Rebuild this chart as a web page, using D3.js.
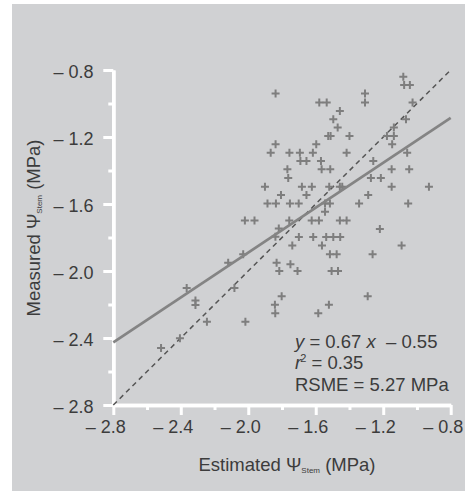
<!DOCTYPE html>
<html><head><meta charset="utf-8">
<script src="https://cdn.jsdelivr.net/npm/d3@7"></script>
<style>
html,body{margin:0;padding:0;background:#fff;}
svg{display:block;font-family:"Liberation Sans",Arial,sans-serif;}
</style></head>
<body><svg id="c" width="465" height="491"></svg>
<script>
// Estimated (x) and measured (y) stem water potential, MPa
const estimated = [-1.081,-1.076,-1.042,-1.838,-1.308,-1.308,-1.579,-1.535,-1.026,-1.457,
-1.496,-1.065,-1.470,-1.137,-1.526,-1.512,-1.400,-1.178,-1.137,-1.838,
-1.597,-1.147,-1.867,-1.756,-1.694,-1.617,-1.417,-1.058,-1.691,-1.655,
-1.569,-1.259,-1.768,-1.565,-1.514,-1.150,-1.046,-1.763,-1.273,-1.214,
-1.901,-1.682,-1.623,-1.520,-1.457,-1.443,-1.150,-0.929,-1.806,-1.655,
-1.289,-1.886,-1.836,-1.753,-1.701,-1.545,-1.516,-1.343,-1.052,-1.545,
-2.020,-1.963,-1.757,-1.624,-1.581,-1.457,-1.417,-1.819,-1.220,-1.839,
-1.700,-1.615,-1.538,-1.496,-1.455,-1.739,-1.563,-1.091,-2.030,-1.516,
-1.476,-1.263,-2.119,-1.832,-1.750,-1.816,-1.708,-1.506,-1.468,-2.365,
-2.082,-1.802,-1.292,-2.313,-2.313,-1.842,-1.522,-1.840,-1.585,-2.245,
-2.017,-2.405,-2.517];
const measured = [-0.840,-0.890,-0.890,-0.940,-0.940,-0.994,-0.994,-0.994,-0.994,-1.045,
-1.094,-1.094,-1.144,-1.144,-1.194,-1.194,-1.194,-1.194,-1.194,-1.244,
-1.244,-1.244,-1.294,-1.294,-1.294,-1.294,-1.294,-1.294,-1.343,-1.343,
-1.343,-1.343,-1.393,-1.393,-1.393,-1.393,-1.393,-1.445,-1.445,-1.445,
-1.497,-1.497,-1.497,-1.497,-1.497,-1.497,-1.497,-1.497,-1.546,-1.546,
-1.546,-1.597,-1.597,-1.597,-1.597,-1.597,-1.597,-1.597,-1.597,-1.646,
-1.698,-1.698,-1.698,-1.698,-1.698,-1.698,-1.698,-1.746,-1.749,-1.796,
-1.797,-1.797,-1.797,-1.797,-1.797,-1.848,-1.848,-1.848,-1.900,-1.900,
-1.900,-1.900,-1.950,-1.950,-1.960,-2.000,-2.000,-2.000,-2.000,-2.101,
-2.101,-2.151,-2.151,-2.176,-2.203,-2.201,-2.201,-2.252,-2.252,-2.303,
-2.303,-2.402,-2.460];
const majorTicks = [-2.8,-2.4,-2.0,-1.6,-1.2,-0.8];
const minorTicks = [-2.6,-2.2,-1.8,-1.4,-1.0];
const tickLabels = ["– 2.8","– 2.4","– 2.0","– 1.6","– 1.2","– 0.8"];
const fitSlope = 0.67, fitIntercept = -0.55;
const domainVals = [-2.8,-0.8];

const svg = d3.select("#c");
const W = 465, H = 491;
svg.append("rect").attr("x",12).attr("y",4).attr("width",W-12).attr("height",H-4).attr("fill","#d0d1d3");

const x = d3.scaleLinear().domain(domainVals).range([113.3,450.7]);
const y = d3.scaleLinear().domain(domainVals).range([405,70]);
const textCol = "#3c3c3c";

// axes
function styleAxis(g){
  g.select(".domain").attr("stroke","#fff").attr("stroke-width",3.5);
  g.selectAll(".tick line").attr("stroke","#fff").attr("stroke-width",3);
  g.selectAll(".tick text").remove();
}
svg.append("g").attr("transform","translate(0,405)")
  .call(d3.axisBottom(x).tickValues(minorTicks).tickSize(5).tickSizeOuter(0).tickFormat(""))
  .call(styleAxis);
svg.append("g").attr("transform","translate(0,405)")
  .call(d3.axisBottom(x).tickValues(majorTicks).tickSize(10).tickSizeOuter(0).tickFormat(""))
  .call(styleAxis);
svg.append("g").attr("transform","translate(113.3,0)")
  .call(d3.axisLeft(y).tickValues(minorTicks).tickSize(5).tickSizeOuter(0).tickFormat(""))
  .call(styleAxis);
svg.append("g").attr("transform","translate(113.3,0)")
  .call(d3.axisLeft(y).tickValues(majorTicks).tickSize(10).tickSizeOuter(0).tickFormat(""))
  .call(styleAxis);

// tick labels
svg.append("g").selectAll("text").data(majorTicks).join("text")
  .attr("x",d=>x(d)+12.5).attr("y",432.7).attr("text-anchor","end")
  .attr("font-size",18).attr("fill",textCol)
  .text((d,i)=>tickLabels[i]);
svg.append("g").selectAll("text").data(majorTicks).join("text")
  .attr("x",93.5).attr("y",d=>y(d)+7.8).attr("text-anchor","end")
  .attr("font-size",18).attr("fill",textCol)
  .text((d,i)=>tickLabels[i]);

// 1:1 dashed line
svg.append("line")
  .attr("x1",x(domainVals[0])).attr("y1",y(domainVals[0]))
  .attr("x2",x(domainVals[1])).attr("y2",y(domainVals[1]))
  .attr("stroke","#555").attr("stroke-width",1.5).attr("stroke-dasharray","5,4");

// points
svg.append("g").selectAll("path").data(estimated).join("path")
  .attr("transform",(d,i)=>`translate(${x(d)},${y(measured[i])})`)
  .attr("d","M-4,0H4M0,-4V4")
  .attr("stroke","#7e7e7e").attr("stroke-width",2).attr("fill","none");

// regression line
svg.append("line")
  .attr("x1",x(domainVals[0])).attr("y1",y(fitSlope*domainVals[0]+fitIntercept))
  .attr("x2",x(domainVals[1])).attr("y2",y(fitSlope*domainVals[1]+fitIntercept))
  .attr("stroke","#848484").attr("stroke-width",2.7);

// annotation
const ann = svg.append("g").attr("font-size",18.5).attr("fill",textCol);
const t1 = ann.append("text").attr("x",295).attr("y",347.7).attr("xml:space","preserve");
t1.append("tspan").attr("font-style","italic").text("y");
t1.append("tspan").text(" = 0.67 ");
t1.append("tspan").attr("font-style","italic").text("x");
t1.append("tspan").text("  – 0.55");
const t2 = ann.append("text").attr("x",295).attr("y",369);
t2.append("tspan").attr("font-style","italic").text("r");
t2.append("tspan").attr("font-size",11).attr("dy",-7).attr("dx",-1).text("2");
t2.append("tspan").attr("dy",7).text(" = 0.35");
ann.append("text").attr("x",295).attr("y",390.7).text("RSME = 5.27 MPa");

// axis titles
const xt = svg.append("text").attr("x",287).attr("y",470.7).attr("text-anchor","middle")
  .attr("font-size",18.5).attr("fill",textCol);
xt.append("tspan").text("Estimated Ψ");
xt.append("tspan").attr("font-size",8).attr("dy",2.7).text("Stem");
xt.append("tspan").attr("dy",-2.7).text(" (MPa)");

const yt = svg.append("text").attr("transform","translate(39.5,228) rotate(-90)")
  .attr("text-anchor","middle").attr("font-size",18.5).attr("fill",textCol);
yt.append("tspan").text("Measured Ψ");
yt.append("tspan").attr("font-size",8).attr("dy",2.7).text("Stem");
yt.append("tspan").attr("dy",-2.7).text(" (MPa)");
</script>
</body></html>
